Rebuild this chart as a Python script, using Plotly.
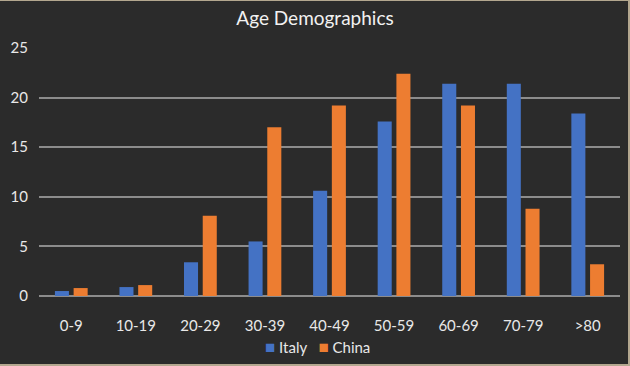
import plotly.graph_objects as go

categories = ["0-9", "10-19", "20-29", "30-39", "40-49", "50-59", "60-69", "70-79", ">80"]
italy = [0.5, 0.9, 3.4, 5.5, 10.6, 17.6, 21.4, 21.4, 18.4]
china = [0.8, 1.1, 8.1, 17.0, 19.2, 22.4, 19.2, 8.8, 3.2]
y_ticks = [0, 5, 10, 15, 20, 25]
series_names = ["Italy", "China"]
series_colors = ["#4472C4", "#ED7D31"]

W, H = 630, 366
ML, MR, MT, MB = 39, 10, 48, 70
pw, ph = W - ML - MR, H - MT - MB

def px_x(px):
    return (px - ML) / pw

def px_y(py):
    return (H - MB - py) / ph

fig = go.Figure()
for name, vals, col in zip(series_names, [italy, china], series_colors):
    fig.add_trace(go.Bar(name=name, x=categories, y=vals,
                         marker=dict(color=col, line=dict(width=0))))

txt = "#e8e8e8"
legend_text = "&nbsp;&nbsp;&nbsp;".join(
    f"<span style='color:{c};font-size:17px'>■</span>&nbsp;{n}" for n, c in zip(series_names, series_colors)
)

fig.update_layout(
    width=W, height=H,
    margin=dict(l=ML, r=MR, t=MT, b=MB, pad=0),
    paper_bgcolor="#b3a78f",
    plot_bgcolor="rgba(0,0,0,0)",
    barmode="group",
    bargap=0.42,
    bargroupgap=0.25,
    font=dict(family="Lato, Open Sans, sans-serif", color=txt, size=15),
    title=dict(text="Age Demographics", x=315 / W, xref="container", xanchor="center",
               y=1 - 18 / H, yref="container", yanchor="middle",
               font=dict(size=19, color="#f2f2f2")),
    showlegend=False,
    annotations=[dict(text=legend_text, xref="paper", yref="paper",
                      x=px_x(317), y=px_y(346), xanchor="center", yanchor="middle",
                      showarrow=False, font=dict(size=15, color=txt))],
    shapes=[dict(type="rect", xref="paper", yref="paper",
                 x0=px_x(0), x1=px_x(628), y0=px_y(364), y1=px_y(1),
                 fillcolor="#2b2b2b", line=dict(width=0), layer="below")],
)
fig.update_xaxes(showgrid=False, showline=False, zeroline=False, ticks="",
                 ticklabelstandoff=19, tickfont=dict(size=15, color=txt))
fig.update_yaxes(range=[0, 25], tickvals=y_ticks, showgrid=True, gridcolor="#8c8c8c", gridwidth=1.5,
                 zeroline=True, zerolinecolor="#8c8c8c", zerolinewidth=1.5,
                 showline=False, ticks="", ticklabelstandoff=10,
                 tickfont=dict(size=15, color=txt))

fig.write_html("out.html", config={"displayModeBar": False},
               post_script="document.body.style.margin='0px';")
